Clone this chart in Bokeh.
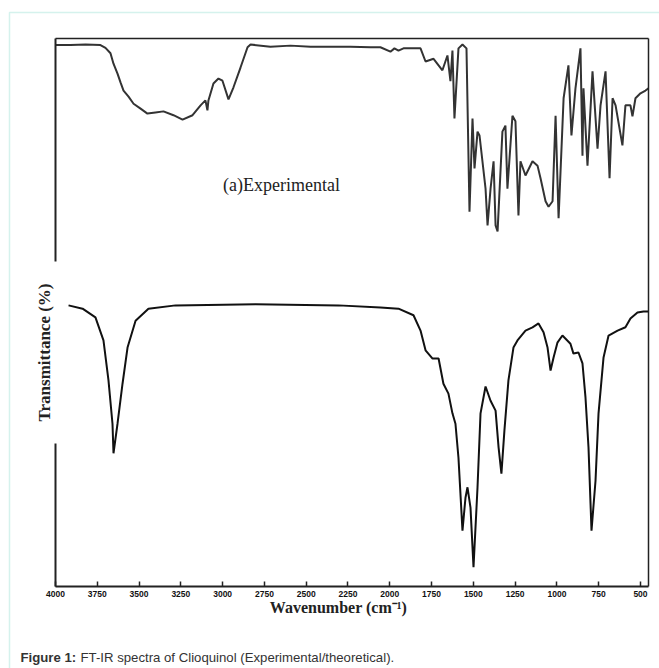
from bokeh.plotting import figure
from bokeh.models import Range1d, LinearAxis, FixedTicker, Label, BoxAnnotation
from bokeh.embed import file_html
from bokeh.resources import INLINE

# ---------------- data ----------------
# (a) Experimental spectrum: wavenumber (cm-1) and transmittance (arbitrary %, stacked)
exp_wn = [4000, 3910, 3820, 3731, 3701, 3671, 3653, 3629, 3611, 3593, 3563, 3533,
          3491, 3450, 3402, 3354, 3294, 3240, 3180, 3132, 3103, 3091, 3085, 3055,
          3025, 3001, 2965, 2935, 2893, 2851, 2833, 2714, 2594, 2474, 2355, 2235,
          2115, 2056, 1996, 1972, 1948, 1918, 1816, 1786, 1738, 1685, 1655, 1637,
          1625, 1613, 1589, 1565, 1541, 1523, 1505, 1493, 1475, 1463, 1427, 1415,
          1397, 1379, 1367, 1355, 1326, 1308, 1296, 1266, 1248, 1230, 1218, 1188,
          1146, 1116, 1098, 1068, 1050, 1026, 1008, 990, 960, 931, 913, 889, 859,
          847, 841, 817, 787, 757, 739, 709, 685, 667, 649, 608, 590, 560, 548,
          530, 500, 470, 452]
exp_t = [98.8, 98.8, 98.9, 98.8, 98.3, 97.3, 95.4, 93.6, 92.0, 90.5, 89.4, 88.1,
         87.2, 86.3, 86.5, 86.7, 86.0, 85.2, 86.0, 87.8, 88.7, 86.9, 88.7, 91.8,
         92.7, 92.3, 88.9, 91.1, 94.7, 98.4, 98.9, 98.5, 98.7, 98.5, 98.5, 98.5,
         98.4, 98.4, 97.6, 98.2, 97.8, 98.2, 98.2, 95.8, 96.3, 94.2, 96.9, 92.2,
         97.8, 85.4, 98.2, 98.9, 98.2, 68.4, 85.4, 76.3, 83.0, 82.3, 72.6, 65.9,
         72.6, 77.6, 65.9, 64.8, 83.0, 84.1, 72.6, 85.9, 84.9, 67.7, 77.6, 75.0,
         77.6, 76.8, 74.5, 70.3, 69.3, 70.3, 85.9, 67.2, 89.1, 95.1, 82.3, 90.9,
         98.2, 78.6, 90.9, 76.8, 94.0, 79.9, 87.8, 94.0, 74.5, 89.1, 87.8, 80.5,
         87.8, 87.8, 85.8, 89.1, 90.0, 90.5, 90.9]

# (b) Theoretical spectrum
theo_wn = [3922, 3838, 3761, 3713, 3683, 3659, 3653, 3629, 3599, 3569, 3521, 3444,
           3282, 2803, 2307, 2056, 1948, 1858, 1816, 1786, 1744, 1708, 1679, 1649,
           1625, 1607, 1589, 1565, 1547, 1535, 1517, 1499, 1475, 1457, 1427, 1397,
           1367, 1349, 1332, 1314, 1290, 1260, 1236, 1188, 1146, 1110, 1080, 1056,
           1038, 1020, 997, 967, 919, 901, 871, 847, 829, 811, 793, 769, 751, 721,
           691, 637, 590, 560, 518, 482, 452]
theo_t = [51.3, 50.7, 49.1, 44.9, 37.6, 29.7, 24.3, 29.7, 37.0, 43.6, 48.5, 50.7,
          51.3, 51.5, 51.3, 50.9, 50.7, 49.5, 46.7, 43.1, 41.6, 41.6, 37.0, 35.2,
          31.6, 29.7, 23.5, 10.2, 16.2, 18.1, 14.4, 3.5, 18.1, 31.6, 36.5, 33.9,
          32.1, 25.4, 20.6, 28.5, 37.6, 43.6, 44.9, 46.7, 47.3, 48.0, 46.4, 43.6,
          39.4, 41.8, 44.5, 45.8, 44.3, 42.5, 42.7, 40.7, 34.5, 25.4, 10.2, 19.3,
          31.6, 41.8, 45.8, 46.7, 47.3, 48.9, 50.0, 50.2, 50.2]

tick_values = [4000, 3750, 3500, 3250, 3000, 2750, 2500, 2250, 2000, 1750, 1500,
               1250, 1000, 750, 500]
tick_labels = [str(v) for v in tick_values]

X_MAX, X_MIN = 4000, 452      # plotted wavenumber span
Y_MIN, Y_MAX = 0, 100         # plotted transmittance span

# ---------------- layout (pixels) ----------------
W, H = 659, 668
BOX_L, BOX_R, BOX_T, BOX_B = 55, 648, 38, 586   # spectrum box on the canvas

xs = (X_MAX - X_MIN) / (BOX_R - BOX_L)
ys = (Y_MAX - Y_MIN) / (BOX_B - BOX_T)
x_range = Range1d(X_MAX + BOX_L * xs, X_MIN - (W - BOX_R) * xs)
y_range = Range1d(Y_MIN - (H - BOX_B) * ys, Y_MAX + BOX_T * ys)

p = figure(width=W, height=H, output_backend="svg", toolbar_location=None,
           x_range=x_range, y_range=y_range,
           x_axis_location=None, y_axis_location=None,
           min_border_left=0, min_border_right=0, min_border_top=0,
           min_border_bottom=0)
p.min_border = 0
p.grid.visible = False
p.outline_line_color = None
p.background_fill_color = "white"
p.border_fill_color = "white"

INK = "#222222"

# bottom axis with inward ticks
xa = LinearAxis(ticker=FixedTicker(ticks=tick_values), fixed_location=Y_MIN,
                bounds=(X_MIN, X_MAX),
                major_label_overrides={v: s for v, s in zip(tick_values, tick_labels)})
xa.axis_line_width = 2
xa.axis_line_color = INK
xa.major_tick_in = 5
xa.major_tick_out = 0
xa.major_tick_line_width = 1.5
xa.major_tick_line_color = INK
xa.minor_tick_line_color = None
xa.major_label_text_font = "Liberation Sans"
xa.major_label_text_font_style = "bold"
xa.major_label_text_font_size = "8.5px"
xa.major_label_text_color = "#111111"
xa.major_label_standoff = 4
p.add_layout(xa, "below")

def frame_axis(width, loc, bounds):
    ax = LinearAxis(ticker=FixedTicker(ticks=[]), fixed_location=loc, bounds=bounds)
    ax.axis_line_width = width
    ax.axis_line_color = INK
    ax.major_tick_line_color = None
    ax.minor_tick_line_color = None
    ax.major_label_text_font_size = "0px"
    return ax

p.add_layout(frame_axis(2, X_MAX, (Y_MIN, Y_MAX)), "left")
p.add_layout(frame_axis(1.5, X_MIN, (Y_MIN, Y_MAX)), "right")
p.add_layout(frame_axis(1.5, Y_MAX, (X_MIN, X_MAX)), "above")

# spectra
p.line(exp_wn, exp_t, line_color="#333333", line_width=2)
p.line(theo_wn, theo_t, line_color="#111111", line_width=2)

# teal page border (left and top edges)
p.add_layout(BoxAnnotation(left=9, right=W + 50, top=H - 12, bottom=-50,
                           left_units="screen", right_units="screen",
                           top_units="screen", bottom_units="screen",
                           fill_color=None, line_color="#74d3c2", line_width=1.5))

# texts (screen units: from the canvas' left / bottom)
p.add_layout(Label(x=281, y=H - 184, x_units="screen", y_units="screen",
                   text="(a)Experimental",
                   text_font="Liberation Serif", text_font_size="18px",
                   text_align="center", text_baseline="middle", text_color=INK))

p.add_layout(Label(x=44, y=H - 352, x_units="screen", y_units="screen",
                   text="Transmittance (%)", angle=90, angle_units="deg",
                   text_font="Liberation Serif", text_font_style="bold",
                   text_font_size="17px", text_align="center", text_baseline="middle",
                   text_color=INK, background_fill_color="white",
                   padding=dict(x=22, y=3)))

p.add_layout(Label(x=338, y=H - 607, x_units="screen", y_units="screen",
                   text="Wavenumber (cm\u207b\u00b9)",
                   text_font="Liberation Serif", text_font_style="bold",
                   text_font_size="16px", text_align="center", text_baseline="middle",
                   text_color=INK))

p.add_layout(Label(x=20, y=H - 657, x_units="screen", y_units="screen",
                   text="Figure 1:", text_font="Liberation Sans", text_font_style="bold",
                   text_font_size="13.2px", text_align="left", text_baseline="middle",
                   text_color="#333333"))
p.add_layout(Label(x=80, y=H - 657, x_units="screen", y_units="screen",
                   text="FT-IR spectra of Clioquinol (Experimental/theoretical).",
                   text_font="Liberation Sans", text_font_size="13.2px",
                   text_align="left", text_baseline="middle", text_color="#333333"))

open("out.html", "w").write(file_html(p, INLINE))
